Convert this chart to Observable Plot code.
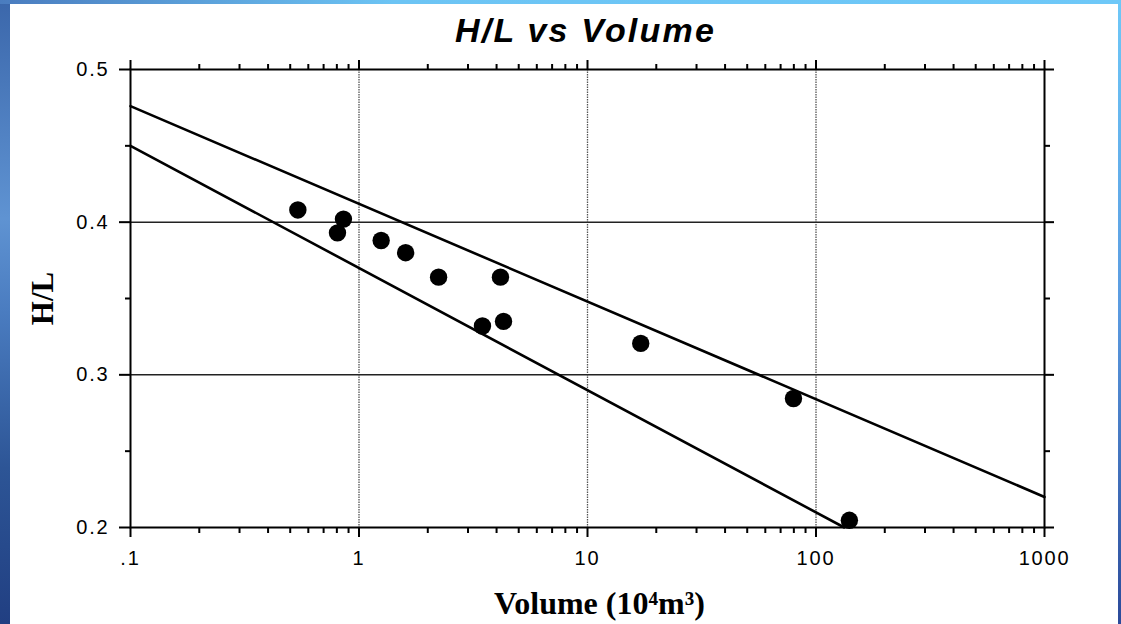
<!DOCTYPE html>
<html>
<head>
<meta charset="utf-8">
<script src="https://cdn.jsdelivr.net/npm/d3@7"></script>
<script src="https://cdn.jsdelivr.net/npm/@observablehq/plot@0.6"></script>
<style>
  html, body { margin: 0; padding: 0; }
  body {
    width: 1121px; height: 624px; position: relative; overflow: hidden;
    background: linear-gradient(to bottom, #3b67ab 0%, #5f93d2 35%, #4a7cc0 50%, #2d5596 75%, #213f82 100%);
  }
  #topstrip { position: absolute; left: 0; top: 0; width: 1121px; height: 4px;
    background: linear-gradient(to right, #4a7cbf 0%, #6cc4f4 35%, #6ec8f8 100%); }
  #rightstrip { position: absolute; left: 1118px; top: 0; width: 3px; height: 624px;
    background: linear-gradient(to bottom, #6ec8f8 0%, #5a9ae0 50%, #2b4a9a 100%); }
  #panel { position: absolute; left: 10px; top: 4px; width: 1108px; height: 620px; background: #fff; }
</style>
</head>
<body>
<div id="topstrip"></div>
<div id="rightstrip"></div>
<div id="panel"></div>
<script>
// Observed points
const volume = [0.54, 0.805, 0.855, 1.25, 1.6, 2.23, 3.47, 4.16, 4.29, 17.1, 79.7, 140];
const hl     = [0.408, 0.393, 0.402, 0.388, 0.380, 0.364, 0.332, 0.364, 0.335, 0.3206, 0.2845, 0.2047];

// Envelope lines
const upperLineX = [0.1, 1000];
const upperLineY = [0.476, 0.22];
const lowerLineX = [0.1, 133];
const lowerLineY = [0.45, 0.2];

// Ticks
const xMajorTicks = [0.1, 1, 10, 100, 1000];
const xTickLabels = [".1", "1", "10", "100", "1000"];
const xMinorTicks = [0.1, 1, 10, 100].flatMap(d => [2,3,4,5,6,7,8,9].map(k => +(k * d).toPrecision(3)));
const yMajorTicks = [0.2, 0.3, 0.4, 0.5];
const yTickLabels = ["0.2", "0.3", "0.4", "0.5"];
const yMinorTicks = [0.25, 0.35, 0.45];
const xGrid = [1, 10, 100];
const yGrid = [0.3, 0.4];

const titleText = "H/L vs Volume";
const xLabel = "Volume (10\u2074m\u00B3)";
const yLabel = "H/L";

const points = volume.map((v, i) => ({volume: v, hl: hl[i]}));
const upper = upperLineX.map((v, i) => ({x: v, y: upperLineY[i]}));
const lower = lowerLineX.map((v, i) => ({x: v, y: lowerLineY[i]}));
const xFmt = d => xTickLabels[xMajorTicks.indexOf(d)] ?? "";
const yFmt = d => yTickLabels[yMajorTicks.indexOf(d)] ?? "";
const none = () => "";

const chart = Plot.plot({
  width: 1108,
  height: 620,
  marginLeft: 120,
  marginRight: 74,
  marginTop: 65,
  marginBottom: 97,
  style: {fontFamily: "'Liberation Sans', Arial, Helvetica, sans-serif", fontSize: "20px", color: "#000", background: "transparent"},
  x: {type: "log", domain: [0.1, 1000], label: null},
  y: {domain: [0.2, 0.5], label: null},
  marks: [
    Plot.ruleX(xGrid, {stroke: "#555", strokeWidth: 1.3, strokeDasharray: "1.5,1"}),
    Plot.ruleY(yGrid, {stroke: "#222", strokeWidth: 1.5}),
    Plot.line(upper, {x: "x", y: "y", stroke: "#000", strokeWidth: 2.6}),
    Plot.line(lower, {x: "x", y: "y", stroke: "#000", strokeWidth: 2.6}),
    Plot.dot(points, {x: "volume", y: "hl", r: 8.7, fill: "#000", stroke: "none"}),
    Plot.frame({stroke: "#000", strokeWidth: 2}),
    Plot.axisY(yMajorTicks, {anchor: "left", tickSize: 11, tickPadding: 10, tickFormat: yFmt, strokeWidth: 2, fontSize: 20, label: null}),
    Plot.axisY(yMinorTicks, {anchor: "left", tickSize: 5, tickFormat: none, strokeWidth: 2, label: null}),
    Plot.axisY(yMajorTicks, {anchor: "right", tickSize: 9, tickFormat: none, strokeWidth: 2, label: null}),
    Plot.axisY(yMinorTicks, {anchor: "right", tickSize: 5, tickFormat: none, strokeWidth: 2, label: null}),
    Plot.axisX(xMajorTicks, {anchor: "bottom", tickSize: 10, tickPadding: 13, tickFormat: xFmt, strokeWidth: 2, fontSize: 20, label: null}),
    Plot.axisX(xMinorTicks, {anchor: "bottom", tickSize: 6, tickFormat: none, strokeWidth: 2, label: null}),
    Plot.axisX(xMajorTicks, {anchor: "top", tickSize: 10, tickFormat: none, strokeWidth: 2, label: null}),
    Plot.axisX(xMinorTicks, {anchor: "top", tickSize: 6, tickFormat: none, strokeWidth: 2, label: null}),
    Plot.text([titleText], {frameAnchor: "top", lineAnchor: "middle", dy: -38, dx: -2, fontSize: 34, fontWeight: "bold", fontStyle: "italic", fontFamily: "'Liberation Sans', Arial, sans-serif", fill: "#000", className: "ttl"}),
    Plot.text([yLabel], {frameAnchor: "left", textAnchor: "middle", lineAnchor: "middle", dx: -87, rotate: -90, fontSize: 31, fontWeight: "bold", fontFamily: "'Liberation Serif', 'Times New Roman', serif", fill: "#000"}),
    Plot.text([xLabel], {frameAnchor: "bottom", lineAnchor: "middle", dy: 76, dx: 12, fontSize: 32, fontWeight: "bold", fontFamily: "'Liberation Serif', 'Times New Roman', serif", fill: "#000"})
  ]
});
d3.select(chart).selectAll("g.ttl text").style("letter-spacing", "2.2px");
d3.select(chart).selectAll('g[aria-label$="tick label"] text').style("letter-spacing", "1.8px");
document.getElementById("panel").appendChild(chart);
</script>
</body>
</html>
